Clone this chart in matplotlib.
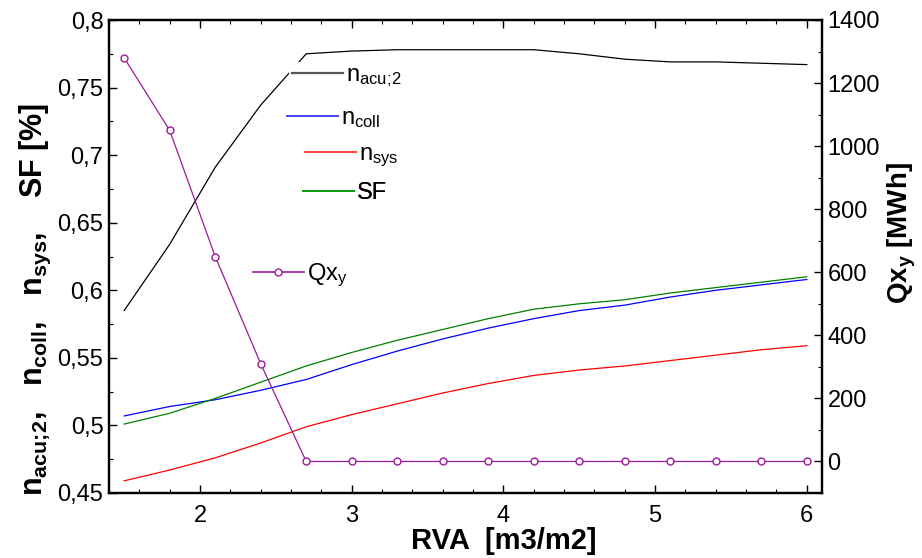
import matplotlib
matplotlib.use('Agg')
import matplotlib.pyplot as plt
from matplotlib.lines import Line2D
from matplotlib.ticker import MultipleLocator, FuncFormatter

plt.rcParams['font.family'] = ['Liberation Sans', 'DejaVu Sans']
plt.rcParams['mathtext.fontset'] = 'custom'
plt.rcParams['mathtext.rm'] = 'Liberation Sans'
plt.rcParams['mathtext.it'] = 'Liberation Sans:italic'
plt.rcParams['mathtext.bf'] = 'Liberation Sans:bold'

# ---- data ----
rva = [1.5, 1.8, 2.1, 2.4, 2.7, 3.0, 3.3, 3.6, 3.9, 4.2, 4.5, 4.8, 5.1, 5.4, 5.7, 6.0]
n_acu2 = [0.585, 0.634, 0.691, 0.737, 0.775, 0.777, 0.778, 0.778, 0.778, 0.778,
          0.775, 0.771, 0.769, 0.769, 0.768, 0.767]
n_coll = [0.507, 0.514, 0.519, 0.526, 0.534, 0.545, 0.555, 0.564, 0.572, 0.579,
          0.585, 0.589, 0.595, 0.600, 0.604, 0.608]
n_sys = [0.459, 0.467, 0.476, 0.487, 0.499, 0.508, 0.516, 0.524, 0.531, 0.537,
         0.541, 0.544, 0.548, 0.552, 0.556, 0.559]
sf = [0.501, 0.509, 0.520, 0.532, 0.544, 0.554, 0.563, 0.571, 0.579, 0.586,
      0.590, 0.593, 0.598, 0.602, 0.606, 0.610]
qx = [1280, 1050, 650, 310, 0, 0, 0, 0, 0, 0, 0, 0, 0, 0, 0, 0]

x_ticks = [2, 3, 4, 5, 6]
purple = '#9a1a9a'

fig = plt.figure(figsize=(9.22, 5.58), dpi=100)
ax = fig.add_axes([109 / 922, 1 - 493 / 558, 713 / 922, 473 / 558])
ax2 = ax.twinx()

ax.plot(rva, n_acu2, color='black', lw=0.9)
ax.plot(rva, n_coll, color='#0000ff', lw=0.9)
ax.plot(rva, n_sys, color='#ff0000', lw=0.9)
ax.plot(rva, sf, color='#008000', lw=0.9)
ax2.plot(rva, qx, color=purple, lw=0.9, marker='o', markersize=5,
         markerfacecolor='white', markeredgecolor=purple, markeredgewidth=1.0)

h_acu = Line2D([], [], color='#555555', lw=1.6, label=r'n$_{\mathrm{acu;\!2}}$')
h_coll = Line2D([], [], color='#4444ff', lw=1.4, label=r'n$_{\mathrm{coll}}$')
h_sys = Line2D([], [], color='#ff4444', lw=1.4, label=r'n$_{\mathrm{sys}}$')
h_sf = Line2D([], [], color='#119911', lw=1.4, label='SF')
h_qx = Line2D([], [], color=purple, lw=1.2, marker='o', markersize=5,
              markerfacecolor='white', markeredgecolor=purple, label=r'Qx$_{\mathrm{y}}$')

ax.set_xlim(1.4, 6.1)
ax.set_ylim(0.45, 0.8)
ax2.set_ylim(-100, 1400)

ax.xaxis.set_major_locator(MultipleLocator(1))
ax.xaxis.set_minor_locator(MultipleLocator(0.2))
ax.yaxis.set_major_locator(MultipleLocator(0.05))
ax.yaxis.set_minor_locator(MultipleLocator(0.025))
ax2.yaxis.set_major_locator(MultipleLocator(200))
ax2.yaxis.set_minor_locator(MultipleLocator(100))
ax.set_xticks(x_ticks)

comma = FuncFormatter(lambda v, p: ('%g' % round(v, 4)).replace('.', ','))
ax.yaxis.set_major_formatter(comma)

for a in (ax, ax2):
    for s in a.spines.values():
        s.set_linewidth(1.6)

ax.tick_params(axis='x', which='both', direction='in', top=True, bottom=True,
               labelsize=17, pad=9)
ax.tick_params(axis='y', which='both', direction='in', left=True, right=False,
               labelsize=17, pad=4)
ax2.tick_params(axis='y', which='both', direction='in', right=True, labelsize=17, pad=4)
for a in (ax, ax2):
    a.tick_params(which='major', length=6, width=1.0)
    a.tick_params(which='minor', length=3, width=0.8)

ax.set_xlabel('RVA  [m3/m2]', fontsize=21, fontweight='bold')
ax.xaxis.set_label_coords(0.553, -0.072)
ax.set_ylabel(r'n$_{\mathbf{acu;\!2}}$,   n$_{\mathbf{coll}}$,   n$_{\mathbf{sys}}$,    SF [%]',
              fontsize=22, fontweight='bold')
ax.yaxis.set_label_coords(-0.078, 0.41)
ax2.set_ylabel(r'Qx$_{\mathbf{y}}$ [MWh]', fontsize=20, fontweight='bold')
ax2.yaxis.set_label_coords(1.09, 0.55)

def one_legend(axis, handle, xpx, ypx, boxed=False):
    lg = axis.legend(handles=[handle], loc='center left',
                     bbox_to_anchor=((xpx - 109) / 713, (493 - ypx) / 473),
                     frameon=boxed, fontsize=17, handlelength=2.15,
                     handletextpad=0.15, borderpad=0.12 if boxed else 0,
                     borderaxespad=0)
    if boxed:
        lg.get_frame().set_facecolor('white')
        lg.get_frame().set_edgecolor('none')
        lg.get_frame().set_alpha(1)
    return lg

leg1 = one_legend(ax, h_acu, 289, 77, boxed=True)
ax.add_artist(leg1)
leg2 = one_legend(ax, h_coll, 287, 119)
ax.add_artist(leg2)
leg3 = one_legend(ax, h_sys, 305, 156)
ax.add_artist(leg3)
leg4 = one_legend(ax, h_sf, 303, 193)
ax.add_artist(leg4)
one_legend(ax2, h_qx, 253, 275)

fig.savefig('out.png', dpi=100)
